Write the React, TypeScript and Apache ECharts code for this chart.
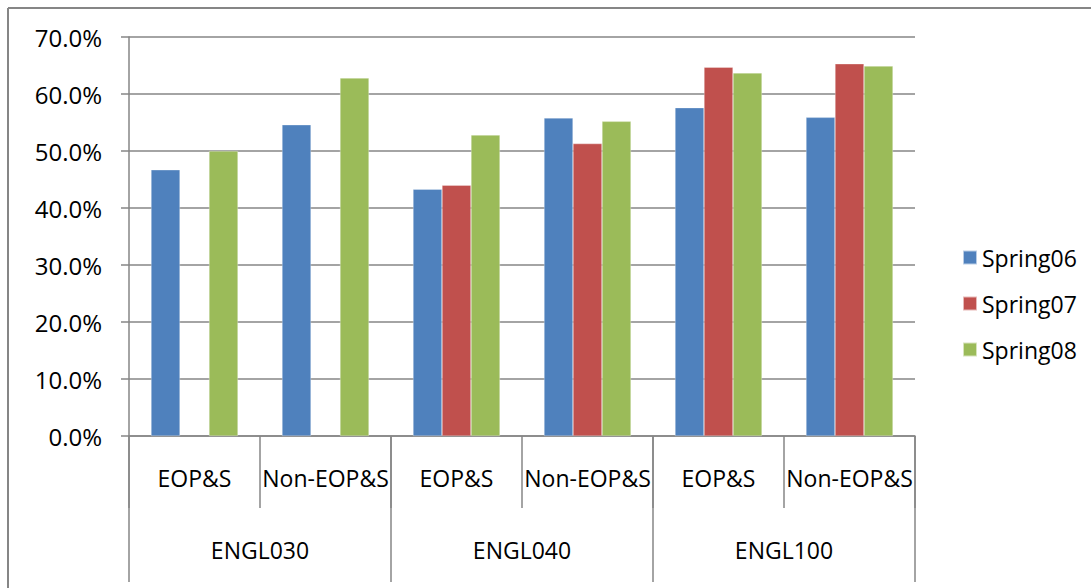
import React, { useEffect, useRef } from "react";
import * as echarts from "echarts";

const subCategories = ["EOP&S", "Non-EOP&S", "EOP&S", "Non-EOP&S", "EOP&S", "Non-EOP&S"];
const courses = ["ENGL030", "ENGL040", "ENGL100"];
const seriesNames = ["Spring06", "Spring07", "Spring08"];
const spring06 = [0.467, 0.546, 0.433, 0.558, 0.576, 0.559];
const spring07 = [null, null, 0.44, 0.513, 0.647, 0.653];
const spring08 = [0.5, 0.628, 0.528, 0.552, 0.637, 0.649];
const colors = ["#4F81BD", "#C0504D", "#9BBB59"];
const yTicks = { min: 0, max: 0.7, interval: 0.1 };

export default function App() {
  const ref = useRef<HTMLDivElement>(null);
  useEffect(() => {
    if (!ref.current) return;
    const chart = echarts.init(ref.current, null, { renderer: "svg" });
    const font = "'Open Sans', sans-serif";
    const gray = "#868686";
    const values = [spring06, spring07, spring08];
    chart.setOption({
      animation: false,
      backgroundColor: "#fff",
      textStyle: { fontFamily: font, color: "#000" },
      grid: { left: 129, right: 176, top: 37, bottom: 152, containLabel: false },
      legend: {
        orient: "vertical",
        left: 957,
        top: 241,
        itemWidth: 14,
        itemHeight: 14,
        itemGap: 23,
        icon: "rect",
        textStyle: { fontFamily: font, fontSize: 23, color: "#000", lineHeight: 23 },
        data: seriesNames,
      },
      xAxis: [
        {
          type: "category",
          data: subCategories,
          position: "bottom",
          axisLine: { show: true, lineStyle: { color: gray, width: 1.5 } },
          axisTick: { show: true, length: 72, interval: 0, alignWithLabel: false, lineStyle: { color: gray, width: 1.5 } },
          axisLabel: { interval: 0, margin: 30, fontSize: 23, color: "#000", fontFamily: font },
          splitLine: { show: false },
        },
        {
          type: "category",
          data: courses,
          position: "bottom",
          axisLine: { show: false },
          axisTick: { show: true, length: 146, interval: 0, alignWithLabel: false, lineStyle: { color: gray, width: 1.5 } },
          axisLabel: { interval: 0, margin: 102, fontSize: 23, color: "#000", fontFamily: font },
          splitLine: { show: false },
        },
      ],
      yAxis: {
        type: "value",
        min: yTicks.min,
        max: yTicks.max,
        interval: yTicks.interval,
        axisLine: { show: true, lineStyle: { color: gray, width: 1.5 } },
        axisTick: { show: true, length: 8, lineStyle: { color: gray, width: 1.5 } },
        axisLabel: {
          margin: 27,
          fontSize: 24,
          color: "#000",
          fontFamily: font,
          formatter: (v: number) => (v * 100).toFixed(1) + "%",
        },
        splitLine: { show: true, lineStyle: { color: gray, width: 1.5 } },
      },
      series: seriesNames.map((name, i) => ({
        name,
        type: "bar",
        xAxisIndex: 0,
        data: values[i],
        barGap: "0%",
        barCategoryGap: "33.6%",
        itemStyle: { color: colors[i], borderColor: "rgba(255,255,255,0.6)", borderWidth: 0.5 },
      })),
      graphic: [
        { type: "line", shape: { x1: 8, y1: 8, x2: 1091, y2: 8 }, style: { stroke: gray, lineWidth: 2 } },
        { type: "line", shape: { x1: 8, y1: 8, x2: 8, y2: 588 }, style: { stroke: gray, lineWidth: 2 } },
      ],
    });
    return () => chart.dispose();
  }, []);
  return (
    <div
      ref={ref}
      style={{ position: "fixed", left: 0, top: 0, width: 1091, height: 588 }}
    />
  );
}
